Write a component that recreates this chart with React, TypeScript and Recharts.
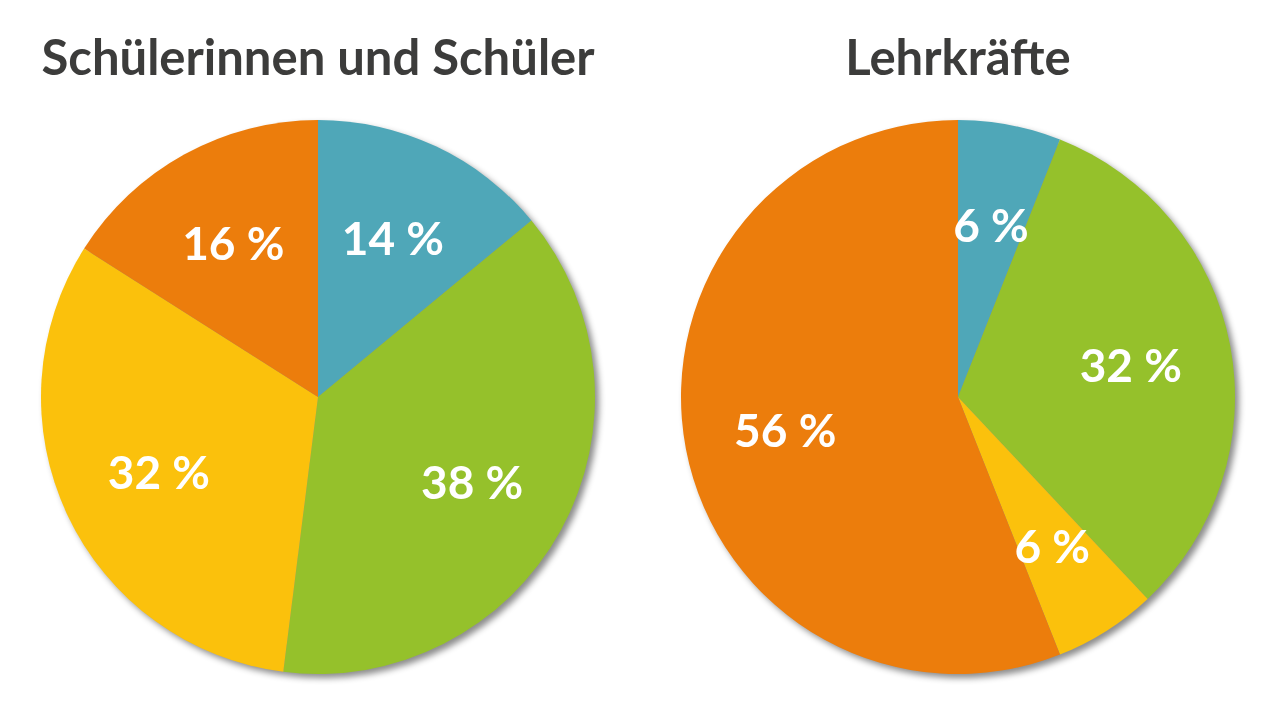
import { PieChart, Pie, Cell } from "recharts";

// shares in percent, clockwise from 12 o'clock
const groups = ["Schülerinnen und Schüler", "Lehrkräfte"];
const sliceKeys = ["blau", "grün", "gelb", "orange"];
const studentShares = [14, 38, 32, 16];
const teacherShares = [6, 32, 6, 56];
const sliceColors = ["#4fa7b8", "#95c12b", "#fbc10c", "#ec7d0c"];

const W = 1280;
const H = 712;
const R = 277;
const CY = 397;
const CX = [318, 958];

const toRows = (shares: number[]) =>
  shares.map((v, i) => ({ name: sliceKeys[i], value: v }));

const RADIAN = Math.PI / 180;

function SliceLabel(props: any) {
  const { cx, cy, midAngle, outerRadius, value } = props;
  const r = outerRadius * 0.635;
  const x = cx + r * Math.cos(-midAngle * RADIAN);
  const y = cy + r * Math.sin(-midAngle * RADIAN);
  return (
    <text
      x={x}
      y={y}
      fill="#ffffff"
      textAnchor="middle"
      dominantBaseline="central"
      fontFamily="Lato, 'Open Sans', sans-serif"
      fontWeight={700}
      fontSize={46}
    >
      {`${value} %`}
    </text>
  );
}

export default function App() {
  const series = [studentShares, teacherShares];
  return (
    <div
      style={{
        position: "absolute",
        left: 0,
        top: 0,
        width: W,
        height: H,
        background: "#ffffff",
      }}
    >
      {groups.map((g, i) => (
        <div
          key={g}
          style={{
            position: "absolute",
            left: CX[i] - 320,
            width: 640,
            top: 26,
            textAlign: "center",
            fontFamily: "Lato, 'Open Sans', sans-serif",
            fontWeight: 700,
            fontSize: 49,
            lineHeight: "60px",
            color: "#3c3c3b",
          }}
        >
          {g}
        </div>
      ))}
      <div style={{ position: "absolute", left: 0, top: 0, filter: "drop-shadow(4px 4px 3px rgba(0,0,0,0.45))" }}>
        <PieChart width={W} height={H} margin={{ top: 0, right: 0, bottom: 0, left: 0 }}>
          {series.map((shares, i) => (
            <Pie
              key={groups[i]}
              data={toRows(shares)}
              dataKey="value"
              cx={CX[i]}
              cy={CY}
              outerRadius={R}
              startAngle={90}
              endAngle={-270}
              stroke="none"
              labelLine={false}
              label={SliceLabel}
              isAnimationActive={false}
            >
              {shares.map((_, j) => (
                <Cell key={j} fill={sliceColors[j]} />
              ))}
            </Pie>
          ))}
        </PieChart>
      </div>
    </div>
  );
}
